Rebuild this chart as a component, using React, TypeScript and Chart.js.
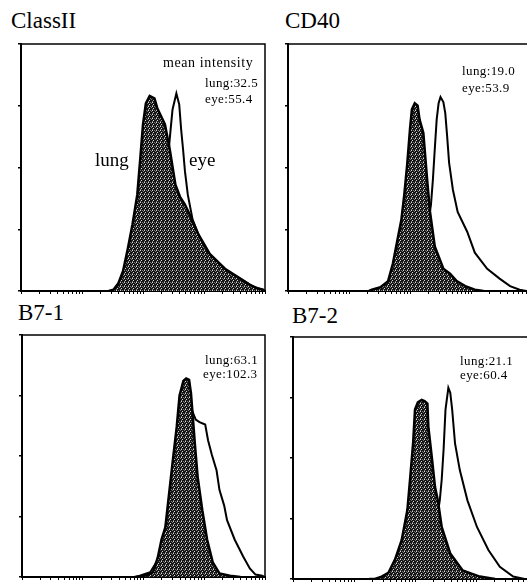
import React, { useEffect, useRef } from 'react';
import { Chart, registerables } from 'chart.js';

Chart.register(...registerables);

// ---------------- data (fluorescence channel 0-256 over 4 log decades, cell counts) ----------------
const classIILungChannels = [92, 97, 102, 107, 112, 117, 122, 125, 128, 131, 135, 140, 143, 146, 151, 156, 162, 167, 172, 177, 186, 198, 214, 230, 240, 249, 254, 256];
const classIILungCounts = [0, 1, 6, 16, 34, 54, 78, 106, 135, 152, 158, 156, 148, 143, 135, 115, 86, 76, 70, 62, 46, 30, 18, 10, 5, 2, 1, 0];
const classIIEyeChannels = [100, 104, 114, 125, 135, 146, 151, 154, 157, 159, 163, 166, 168, 170, 172, 175, 180, 188, 198, 212, 230, 245, 253, 256];
const classIIEyeCounts = [0, 1, 8, 19, 35, 60, 82, 106, 131, 147, 160, 151, 131, 115, 97, 78, 58, 42, 29, 18, 10, 3, 1, 0];

const cd40LungChannels = [85, 88, 97, 105, 110, 114, 119, 122, 125, 128, 130, 133, 136, 138, 142, 146, 149, 154, 163, 170, 177, 186, 196, 205];
const cd40LungCounts = [0, 1, 3, 8, 22, 38, 58, 78, 102, 131, 147, 152, 150, 139, 128, 90, 64, 36, 18, 14, 8, 4, 1, 0];
const cd40EyeChannels = [100, 107, 123, 133, 141, 147, 150, 152, 154, 156, 158, 160, 163, 165, 167, 169, 173, 178, 188, 196, 209, 222, 233, 243, 250];
const cd40EyeCounts = [0, 1, 6, 18, 34, 54, 70, 90, 115, 139, 152, 157, 153, 144, 125, 104, 82, 64, 48, 31, 18, 10, 4, 1, 0];

const b71LungChannels = [120, 124, 133, 138, 143, 147, 151, 155, 159, 163, 166, 170, 173, 176, 178, 180, 182, 185, 190, 195, 201, 208, 219, 230];
const b71LungCounts = [0, 0, 2, 4, 16, 31, 41, 69, 97, 124, 150, 162, 164, 163, 152, 132, 111, 83, 55, 31, 12, 3, 1, 0];
const b71EyeChannels = [118, 124, 135, 143, 148, 153, 158, 163, 167, 171, 173, 176, 179, 183, 187, 193, 196, 200, 205, 208, 213, 216, 224, 233, 240, 246, 253, 256];
const b71EyeCounts = [0, 1, 4, 14, 31, 39, 55, 88, 121, 150, 163, 161, 138, 130, 128, 126, 113, 101, 88, 72, 59, 47, 31, 17, 7, 2, 1, 0];

const b72LungChannels = [80, 86, 93, 100, 107, 114, 120, 123, 126, 128, 131, 135, 138, 141, 142, 146, 149, 152, 156, 165, 178, 196, 212];
const b72LungCounts = [0, 0, 2, 5, 16, 32, 57, 84, 112, 140, 146, 148, 147, 145, 126, 98, 76, 65, 43, 21, 7, 2, 0];
const b72EyeChannels = [100, 107, 123, 138, 149, 154, 156, 158, 160, 163, 165, 167, 170, 175, 183, 193, 205, 217, 231, 243, 250];
const b72EyeCounts = [0, 0, 3, 16, 40, 65, 82, 107, 140, 158, 154, 140, 112, 90, 65, 43, 24, 10, 2, 0, 0];

const panelTitles = ['ClassII', 'CD40', 'B7-1', 'B7-2'];
const lungMeans = ['lung:32.5', 'lung:19.0', 'lung:63.1', 'lung:21.1'];
const eyeMeans = ['eye:55.4', 'eye:53.9', 'eye:102.3', 'eye:60.4'];

const X_MAX = 256;
const Y_MAX = 200;
const Y_STEP = 50;
const DECADES = 4;

// ---------------- layout ----------------
type Note = { text: string; dx: number; dy: number; size: number; base: CanvasTextBaseline; spacing: number };
type PanelCfg = {
  box: { l: number; t: number; w: number; h: number };
  title: { x: number; baseline: number };
  lung: [number[], number[]];
  eye: [number[], number[]];
  notes: Note[];
};

const PAD = 5;
const AXIS = 3;

const panels: PanelCfg[] = [
  {
    box: { l: 21, t: 44, w: 244, h: 247 },
    title: { x: 11, baseline: 28 },
    lung: [classIILungChannels, classIILungCounts],
    eye: [classIIEyeChannels, classIIEyeCounts],
    notes: [
      { text: 'mean intensity', dx: 142, dy: 19, size: 14, base: 'middle', spacing: 0.6 },
      { text: lungMeans[0], dx: 184, dy: 40, size: 13, base: 'middle', spacing: 0.4 },
      { text: eyeMeans[0], dx: 184, dy: 56, size: 13, base: 'middle', spacing: 0.4 },
      { text: 'lung', dx: 95 - 21, dy: 122, size: 19, base: 'alphabetic', spacing: 0 },
      { text: 'eye', dx: 189 - 21, dy: 122, size: 19, base: 'alphabetic', spacing: 0 },
    ],
  },
  {
    box: { l: 288, t: 44, w: 244, h: 247 },
    title: { x: 285, baseline: 28 },
    lung: [cd40LungChannels, cd40LungCounts],
    eye: [cd40EyeChannels, cd40EyeCounts],
    notes: [
      { text: lungMeans[1], dx: 174, dy: 28, size: 13, base: 'middle', spacing: 0.4 },
      { text: eyeMeans[1], dx: 174, dy: 45, size: 13, base: 'middle', spacing: 0.4 },
    ],
  },
  {
    box: { l: 22, t: 335, w: 243, h: 242 },
    title: { x: 18, baseline: 320 },
    lung: [b71LungChannels, b71LungCounts],
    eye: [b71EyeChannels, b71EyeCounts],
    notes: [
      { text: lungMeans[2], dx: 183, dy: 26, size: 13, base: 'middle', spacing: 0.4 },
      { text: eyeMeans[2], dx: 181, dy: 40, size: 13, base: 'middle', spacing: 0.4 },
    ],
  },
  {
    box: { l: 293, t: 337, w: 244, h: 242 },
    title: { x: 292, baseline: 323 },
    lung: [b72LungChannels, b72LungCounts],
    eye: [b72EyeChannels, b72EyeCounts],
    notes: [
      { text: lungMeans[3], dx: 167, dy: 25, size: 13, base: 'middle', spacing: 0.4 },
      { text: eyeMeans[3], dx: 167, dy: 39, size: 13, base: 'middle', spacing: 0.4 },
    ],
  },
];

const SERIF = '"Liberation Serif", "Times New Roman", serif';

function makeStipple(): CanvasPattern | string {
  const c = document.createElement('canvas');
  c.width = 4;
  c.height = 4;
  const g = c.getContext('2d');
  if (!g) return '#404040';
  const map = ['KKGK', 'LKKK', 'KKKG', 'KGKL'];
  const col: Record<string, string> = { K: '#141414', G: '#7a7a7a', L: '#d8d8d8' };
  for (let y = 0; y < 4; y++) for (let x = 0; x < 4; x++) {
    g.fillStyle = col[map[y][x]];
    g.fillRect(x, y, 1, 1);
  }
  return g.createPattern(c, 'repeat') || '#404040';
}

function logTickChannels(): number[] {
  const out: number[] = [];
  const perDecade = X_MAX / DECADES;
  for (let d = 0; d < DECADES; d++) {
    for (let m = 1; m < 10; m++) out.push(perDecade * (d + Math.log10(m)));
  }
  out.push(X_MAX);
  return out;
}

function Panel({ cfg }: { cfg: PanelCfg }) {
  const ref = useRef<HTMLCanvasElement>(null);
  const W = cfg.box.w + AXIS + PAD * 2;
  const H = cfg.box.h + AXIS + PAD * 2;
  useEffect(() => {
    const canvas = ref.current;
    if (!canvas) return;
    const stipple = makeStipple();
    const toPts = (s: [number[], number[]]) => s[0].map((x, i) => ({ x, y: s[1][i] }));
    const framePlugin = {
      id: 'frameNotes',
      afterDraw(chart: any) {
        const { ctx, chartArea } = chart;
        const { left, top, right, bottom } = chartArea;
        ctx.save();
        ctx.strokeStyle = '#000';
        ctx.lineWidth = 1.5;
        ctx.beginPath();
        ctx.moveTo(left, bottom);
        ctx.lineTo(left, top);
        ctx.lineTo(right, top);
        ctx.lineTo(right, bottom);
        ctx.stroke();
        ctx.fillStyle = '#000';
        ctx.textAlign = 'left';
        for (const n of cfg.notes) {
          ctx.font = `${n.size}px ${SERIF}`;
          ctx.textBaseline = n.base;
          (ctx as any).letterSpacing = `${n.spacing}px`;
          ctx.fillText(n.text, left + n.dx, top + n.dy);
        }
        ctx.restore();
      },
    };
    const ticks = logTickChannels();
    const chart = new Chart(canvas, {
      type: 'line',
      data: {
        datasets: [
          {
            label: 'lung',
            data: toPts(cfg.lung),
            borderColor: '#000',
            borderWidth: 2.5,
            backgroundColor: stipple as any,
            fill: 'origin',
            pointRadius: 0,
            tension: 0,
            order: 0,
          },
          {
            label: 'eye',
            data: toPts(cfg.eye),
            borderColor: '#000',
            borderWidth: 2,
            backgroundColor: 'rgba(0,0,0,0)',
            fill: false,
            pointRadius: 0,
            tension: 0,
            order: 1,
          },
        ],
      },
      options: {
        responsive: false,
        animation: false,
        layout: { padding: { left: PAD, right: PAD, top: PAD, bottom: PAD } },
        plugins: { legend: { display: false }, tooltip: { enabled: false } },
        scales: {
          x: {
            type: 'linear',
            min: 0,
            max: X_MAX,
            ticks: { display: false },
            grid: { drawOnChartArea: false, drawTicks: true, tickLength: AXIS, tickColor: '#000', color: '#000', lineWidth: 1 },
            border: { display: true, color: '#000', width: 2 },
            afterBuildTicks: (s: any) => {
              s.ticks = ticks.map((v) => ({ value: v }));
            },
          },
          y: {
            type: 'linear',
            min: 0,
            max: Y_MAX,
            ticks: { display: false, stepSize: Y_STEP },
            grid: { drawOnChartArea: false, drawTicks: true, tickLength: AXIS, tickColor: '#000', color: '#000', lineWidth: 1.5 },
            border: { display: true, color: '#000', width: 2 },
          },
        },
      },
      plugins: [framePlugin],
    });
    return () => chart.destroy();
  }, []);
  return (
    <canvas
      ref={ref}
      width={W}
      height={H}
      style={{ position: 'absolute', left: cfg.box.l - PAD - AXIS, top: cfg.box.t - PAD, width: W, height: H }}
    />
  );
}

export default function App() {
  useEffect(() => {
    document.body.style.margin = '0';
  }, []);
  return (
    <div style={{ position: 'fixed', left: 0, top: 0, width: 527, height: 582, overflow: 'hidden', background: '#fff' }}>
      {panels.map((p, i) => (
        <div
          key={'t' + i}
          style={{
            position: 'absolute',
            left: p.title.x,
            top: p.title.baseline - 19.3,
            fontFamily: SERIF,
            fontSize: 23,
            lineHeight: '23px',
            whiteSpace: 'nowrap',
            color: '#000',
          }}
        >
          {panelTitles[i]}
        </div>
      ))}
      {panels.map((p, i) => (
        <Panel key={'p' + i} cfg={p} />
      ))}
    </div>
  );
}
